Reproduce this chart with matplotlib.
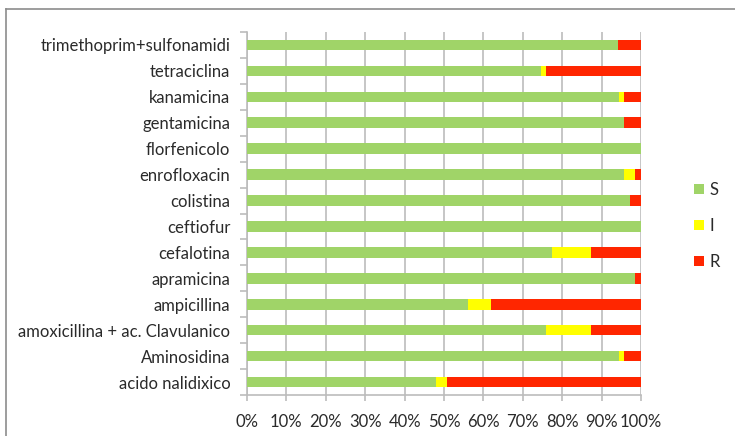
#!/usr/bin/env python
# -*- coding: utf-8 -*-

import numpy as np
import matplotlib as mpl
import matplotlib.pyplot as plt
from matplotlib.lines import Line2D

plt.rcParams['font.family'] = ['Lato', 'DejaVu Sans']

############################################################
# Data (percentages, bottom to top as drawn)
farmaci = [
    'acido nalidixico',
    'Aminosidina',
    'amoxicillina + ac. Clavulanico',
    'ampicillina',
    'apramicina',
    'cefalotina',
    'ceftiofur',
    'colistina',
    'enrofloxacin',
    'florfenicolo',
    'gentamicina',
    'kanamicina',
    'tetraciclina',
    'trimethoprim+sulfonamidi',
]
S = [48.0, 94.5, 75.9, 56.2, 98.6, 77.4, 100.0, 97.1, 95.8, 100.0, 95.8, 94.5, 74.7, 94.1]
I = [2.8, 1.3, 11.3, 5.7, 0.0, 9.8, 0.0, 0.0, 2.8, 0.0, 0.0, 1.3, 1.2, 0.0]
R = [49.2, 4.2, 12.8, 38.1, 1.4, 12.8, 0.0, 2.9, 1.4, 0.0, 4.2, 4.2, 24.1, 5.9]

colori = {'S': '#a0d468', 'I': '#ffff00', 'R': '#ff2600'}
############################################################
# Plotting

fig = plt.figure(figsize=(7.35, 4.36), dpi=100)
ax = fig.add_axes([247/735, 1 - 395/436, (641-247)/735, (395-32)/436])

y = np.arange(len(farmaci))
S = np.array(S); I = np.array(I); R = np.array(R)
h = 0.41
ax.barh(y, S, height=h, color=colori['S'], label='S', zorder=3)
ax.barh(y, I, left=S, height=h, color=colori['I'], label='I', zorder=3)
ax.barh(y, R, left=S+I, height=h, color=colori['R'], label='R', zorder=3)

ax.set_xlim(0, 100)
ax.set_ylim(-0.5, len(farmaci) - 0.5)
ax.set_xticks(np.arange(0, 101, 10))
ax.set_xticklabels(['%d%%' % v for v in range(0, 101, 10)])
ax.set_yticks(y)
ax.set_yticklabels(farmaci)
ax.set_yticks(np.arange(-0.5, len(farmaci)), minor=True)

grigio = '#bcbcbc'
ax.grid(axis='x', color=grigio, lw=1.2, zorder=0)
for s in ['top', 'right']:
    ax.spines[s].set_visible(False)
for s in ['left', 'bottom']:
    ax.spines[s].set_color(grigio)
    ax.spines[s].set_linewidth(1.2)

ax.tick_params(axis='x', length=4, width=1.2, color=grigio, pad=10,
               labelsize=12, labelcolor='#2a2a2a')
ax.tick_params(axis='y', which='major', length=0, pad=12,
               labelsize=12, labelcolor='#2a2a2a')
ax.tick_params(axis='y', which='minor', length=5, width=1.2, color=grigio)

handles = [
    Line2D([], [], ls='none', marker='s', ms=7, mew=0, mfc=colori[k])
    for k in ['S', 'I', 'R']
]
fig.legend(handles, ['S', 'I', 'R'], loc='center left',
           bbox_to_anchor=(678/735, 1 - 226/436), frameon=False,
           fontsize=12, labelspacing=1.2, handlelength=0.7,
           handletextpad=0.3, labelcolor='#2a2a2a')

# chart border (left and top edges visible)
fig.add_artist(Line2D([6/735, 6/735], [0, 1 - 9/436],
                      transform=fig.transFigure, color='#8c8c8c', lw=1.2))
fig.add_artist(Line2D([6/735, 1], [1 - 9/436, 1 - 9/436],
                      transform=fig.transFigure, color='#8c8c8c', lw=1.2))

plt.savefig('out.png', dpi=100)
